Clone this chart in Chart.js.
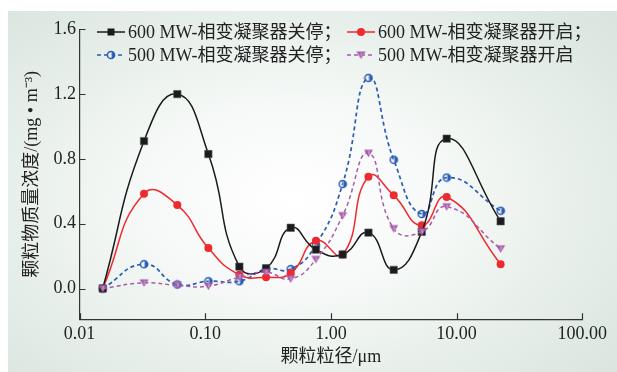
<!DOCTYPE html>
<html>
<head>
<meta charset="utf-8">
<script src="https://cdn.jsdelivr.net/npm/chart.js@4.4.1/dist/chart.umd.min.js"></script>
<style>
  html, body { margin: 0; padding: 0; background: #fff; }
  #wrap { position: relative; width: 617px; height: 372px; overflow: hidden; }
  #panel {
    position: absolute; left: 8px; top: 11px; width: 609px; height: 361px;
    background: radial-gradient(ellipse 70% 75% at 47% 52%, #ffffff 0%, #f6f9f7 35%, #e6eee9 70%, #d9e5de 100%);
  }
  #chart { position: absolute; left: 0; top: 0; }
</style>
</head>
<body>
<div id="wrap">
  <div id="panel"></div>
  <canvas id="chart" width="617" height="372"></canvas>
</div>
<script>
// particle size, um
const sizes = [0.0153, 0.0326, 0.060, 0.106, 0.187, 0.305, 0.479, 0.760, 1.24, 1.99, 3.16, 5.28, 8.34, 22.4];
// mass concentration, mg/m3
const off600 = [0.00, 0.91, 1.20, 0.83, 0.135, 0.125, 0.375, 0.24, 0.21, 0.345, 0.115, 0.35, 0.925, 0.415];
const on600 = [0.00, 0.585, 0.515, 0.25, 0.085, 0.07, 0.095, 0.295, 0.21, 0.69, 0.575, 0.39, 0.565, 0.15];
const off500 = [0.00, 0.15, 0.025, 0.045, 0.045, 0.12, 0.12, 0.27, 0.645, 1.30, 0.795, 0.46, 0.685, 0.48];
const on500 = [0.00, 0.035, 0.02, 0.015, 0.07, 0.10, 0.06, 0.18, 0.45, 0.835, 0.37, 0.35, 0.505, 0.245];

const seriesNames = ['600 MW-相变凝聚器关停；', '600 MW-相变凝聚器开启；', '500 MW-相变凝聚器关停；', '500 MW-相变凝聚器开启'];
const xTicks = [0.01, 0.1, 1, 10, 100];
const yTicks = [0, 0.4, 0.8, 1.2, 1.6];

const FONT = "'Liberation Serif', 'Times New Roman', 'Noto Sans CJK SC', serif";
const BLACK = '#1b1b1b', RED = '#ee2a2e', BLUE = '#2a5cb4', PURPLE = '#a75cab';

function toPoints(ys) {
    return ys.map((y, i) => ({ x: sizes[i], y: y }));
}

// half-filled circle marker
function blueMarker() {
    const c = document.createElement('canvas');
    c.width = 10; c.height = 10;
    const g = c.getContext('2d');
    g.fillStyle = BLUE;
    g.beginPath();
    g.arc(5, 5, 3.6, -Math.PI / 2, Math.PI / 2);
    g.closePath();
    g.fill();
    g.strokeStyle = BLUE;
    g.lineWidth = 1.5;
    g.beginPath();
    g.arc(5, 5, 3.6, 0, Math.PI * 2);
    g.stroke();
    g.strokeStyle = 'rgba(255,255,255,0.8)';
    g.lineWidth = 0.8;
    g.beginPath();
    g.moveTo(5.6, 2.2); g.lineTo(5.6, 7.8);
    g.stroke();
    return c;
}

// down triangle marker
function purpleMarker() {
    const c = document.createElement('canvas');
    c.width = 11; c.height = 10;
    const g = c.getContext('2d');
    g.fillStyle = PURPLE;
    g.beginPath();
    g.moveTo(1, 1.5); g.lineTo(10, 1.5); g.lineTo(5.5, 9);
    g.closePath();
    g.fill();
    g.strokeStyle = 'rgba(255,255,255,0.7)';
    g.lineWidth = 0.8;
    g.beginPath();
    g.moveTo(6, 2.5); g.lineTo(6, 6.5);
    g.stroke();
    return c;
}

const bMark = blueMarker();
const pMark = purpleMarker();

const insideTicks = {
    id: 'insideTicks',
    afterDraw(chart) {
        const ctx = chart.ctx;
        const xs = chart.scales.x, ys = chart.scales.y;
        const area = chart.chartArea;
        ctx.save();
        ctx.strokeStyle = '#333';
        ctx.lineWidth = 1.2;
        ctx.beginPath();
        xTicks.forEach(v => {
            const px = Math.round(xs.getPixelForValue(v)) + 0.5;
            ctx.moveTo(px, area.bottom);
            ctx.lineTo(px, area.bottom - 6);
        });
        yTicks.forEach(v => {
            const py = Math.round(ys.getPixelForValue(v)) + 0.5;
            ctx.moveTo(area.left, py);
            ctx.lineTo(area.left + 6, py);
        });
        ctx.stroke();
        ctx.restore();
    }
};

const legendRows = {
    id: 'legendRows',
    afterDraw(chart) {
        const ctx = chart.ctx;
        const slots = [[97, 32], [347, 32], [97, 55], [347, 55]];
        ctx.save();
        ctx.font = '18px ' + FONT;
        ctx.textBaseline = 'middle';
        ctx.fillStyle = '#222';
        chart.data.datasets.forEach((ds, i) => {
            const [x, y] = slots[i];
            ctx.save();
            ctx.strokeStyle = ds.borderColor;
            ctx.lineWidth = ds.borderWidth;
            ctx.setLineDash(ds.borderDash || []);
            ctx.beginPath();
            ctx.moveTo(x, y);
            ctx.lineTo(x + 28, y);
            ctx.stroke();
            ctx.restore();
            const cx = x + 14;
            if (ds.pointStyle instanceof HTMLCanvasElement) {
                ctx.drawImage(ds.pointStyle, cx - ds.pointStyle.width / 2, y - ds.pointStyle.height / 2);
            } else if (ds.pointStyle === 'rect') {
                ctx.fillStyle = ds.pointBackgroundColor;
                ctx.fillRect(cx - 3.5, y - 3.5, 7, 7);
            } else {
                ctx.fillStyle = ds.pointBackgroundColor;
                ctx.beginPath();
                ctx.arc(cx, y, 4, 0, Math.PI * 2);
                ctx.fill();
            }
            ctx.fillStyle = '#222';
            ctx.fillText(seriesNames[i], x + 31, y + 1);
        });
        ctx.restore();
    }
};

const ctx = document.getElementById('chart').getContext('2d');

const chart = new Chart(ctx, {
    type: 'line',
    data: {
        datasets: [
            {
                label: seriesNames[0],
                data: toPoints(off600),
                borderColor: BLACK,
                borderWidth: 1.5,
                pointStyle: 'rect',
                pointRadius: 5.2,
                pointBackgroundColor: BLACK,
                pointBorderColor: '#555',
                pointBorderWidth: 0.6,
                tension: 0.5,
                order: 1
            },
            {
                label: seriesNames[1],
                data: toPoints(on600),
                borderColor: RED,
                borderWidth: 1.5,
                pointStyle: 'circle',
                pointRadius: 4,
                pointBackgroundColor: RED,
                pointBorderColor: RED,
                pointBorderWidth: 0,
                tension: 0.5,
                order: 2
            },
            {
                label: seriesNames[2],
                data: toPoints(off500),
                borderColor: BLUE,
                borderWidth: 1.7,
                borderDash: [4, 3],
                pointStyle: bMark,
                tension: 0.5,
                order: 3
            },
            {
                label: seriesNames[3],
                data: toPoints(on500),
                borderColor: PURPLE,
                borderWidth: 1.5,
                borderDash: [4, 3],
                pointStyle: pMark,
                tension: 0.5,
                order: 0
            }
        ]
    },
    options: {
        responsive: false,
        animation: false,
        layout: {
            padding: { left: 0, right: 34.7, top: 29.3, bottom: 0 }
        },
        plugins: {
            legend: { display: false },
            tooltip: { enabled: false }
        },
        scales: {
            x: {
                type: 'logarithmic',
                min: 0.01,
                max: 100,
                afterBuildTicks: scale => {
                    scale.ticks = xTicks.map(v => ({ value: v }));
                },
                afterFit: scale => { scale.height = 52.7; },
                ticks: {
                    autoSkip: false,
                    maxRotation: 0,
                    padding: 4,
                    color: '#222',
                    font: { family: FONT, size: 18 },
                    callback: v => Number(v).toFixed(2)
                },
                grid: { display: false, drawTicks: false },
                border: { display: true, color: '#333', width: 1.2 },
                title: {
                    display: true,
                    text: '颗粒粒径/μm',
                    color: '#222',
                    font: { family: FONT, size: 18 },
                    padding: { top: 0, bottom: 3.5 }
                }
            },
            y: {
                min: -0.19,
                max: 1.6,
                afterBuildTicks: scale => {
                    scale.ticks = yTicks.map(v => ({ value: v }));
                },
                afterFit: scale => { scale.width = 79.5; },
                ticks: {
                    padding: 3.5,
                    color: '#222',
                    font: { family: FONT, size: 18 },
                    callback: v => Number(v).toFixed(1)
                },
                grid: { display: false, drawTicks: false },
                border: { display: true, color: '#333', width: 1.2 },
                title: {
                    display: true,
                    text: '颗粒物质量浓度/(mg • m⁻³)',
                    color: '#222',
                    font: { family: FONT, size: 18 },
                    padding: { top: 21, bottom: 0 }
                }
            }
        }
    },
    plugins: [insideTicks, legendRows]
});
</script>
</body>
</html>
